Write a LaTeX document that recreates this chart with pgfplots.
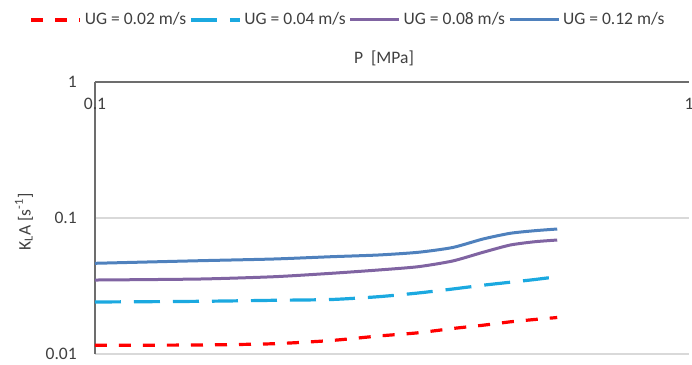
\documentclass[border=0pt]{standalone}
\usepackage{fontspec}
\setmainfont{Carlito}
\usepackage{pgfplots}
\pgfplotsset{compat=1.18}
\definecolor{cRed}{HTML}{FF0000}
\definecolor{cCyan}{HTML}{1BA9E0}
\definecolor{cPurple}{HTML}{8064A2}
\definecolor{cBlue}{HTML}{4F81BD}
\definecolor{cGrid}{HTML}{D9D9D9}
\definecolor{cAxis}{HTML}{6D6D6D}
\definecolor{cText}{HTML}{404040}
\begin{document}
\begin{tikzpicture}[font=\fontsize{8.8}{10.5}\selectfont]
\path[use as bounding box] (0bp,0bp) rectangle (346bp,182.5bp);
\begin{axis}[
  at={(47.5bp,5.5bp)}, anchor=south west,
  scale only axis, width=297bp, height=136bp,
  xmode=log, ymode=log,
  xmin=0.1, xmax=1, ymin=0.01, ymax=1,
  axis x line*=top, axis y line*=left,
  axis line style={draw=cAxis, line width=1bp},
  xtick={0.1,1}, xticklabels={0.1,1},
  ytick={0.01,0.1,1}, yticklabels={0.01,0.1,1},
  tick style={draw=none},
  ymajorgrids, major grid style={draw=cGrid, line width=0.75bp},
  xticklabel style={anchor=north, yshift=-4.7bp, text=cText},
  yticklabel style={xshift=-5.6bp, text=cText},
  /pgf/number format/assume math mode=true,
  clip=false,
  legend columns=4,
  legend style={at={(0.4268,1.228)}, anchor=center, draw=none, fill=none,
    text=cText, nodes={inner xsep=1.5bp, inner ysep=1bp},
    /tikz/every even column/.append style={column sep=0bp}},
  legend image code/.code={\draw[#1] (0bp,0bp) -- (24.5bp,0bp);},
]
\addplot[cRed, line width=1.6bp, dash pattern=on 6bp off 6bp, smooth, tension=0.4] coordinates {
 (0.1,0.01159) (0.15,0.01165) (0.2,0.01190) (0.25,0.01257) (0.3,0.01356) (0.35,0.01432)
 (0.4,0.01540) (0.45,0.01628) (0.5,0.01724) (0.55,0.01794) (0.6,0.01855)};
\addlegendentry{UG = 0.02 m/s}
\addplot[cCyan, line width=1.6bp, dash pattern=on 13bp off 6.5bp, smooth, tension=0.4] coordinates {
 (0.1,0.02412) (0.15,0.02440) (0.2,0.02482) (0.25,0.02516) (0.3,0.02638) (0.35,0.02809)
 (0.4,0.03005) (0.45,0.03205) (0.5,0.03371) (0.55,0.03529) (0.6,0.03700)};
\addlegendentry{UG = 0.04 m/s}
\addplot[cPurple, line width=1.5bp, smooth, tension=0.4] coordinates {
 (0.1,0.03499) (0.15,0.03559) (0.2,0.03700) (0.25,0.03921) (0.3,0.04146) (0.35,0.04384)
 (0.4,0.04829) (0.45,0.05595) (0.5,0.06328) (0.55,0.06692) (0.6,0.06888)};
\addlegendentry{UG = 0.08 m/s}
\addplot[cBlue, line width=1.5bp, smooth, tension=0.4] coordinates {
 (0.1,0.04644) (0.15,0.04853) (0.2,0.04995) (0.25,0.05193) (0.3,0.05345) (0.35,0.05595)
 (0.4,0.06068) (0.45,0.07008) (0.5,0.07719) (0.55,0.08065) (0.6,0.08300)};
\addlegendentry{UG = 0.12 m/s}
\end{axis}
\node[text=cText] at (192bp,153.5bp) {P\ \ [MPa]};
\node[text=cText, rotate=90] at (12bp,71.5bp) {K\textsubscript{L}A [s\textsuperscript{-1}]};
\end{tikzpicture}
\end{document}
